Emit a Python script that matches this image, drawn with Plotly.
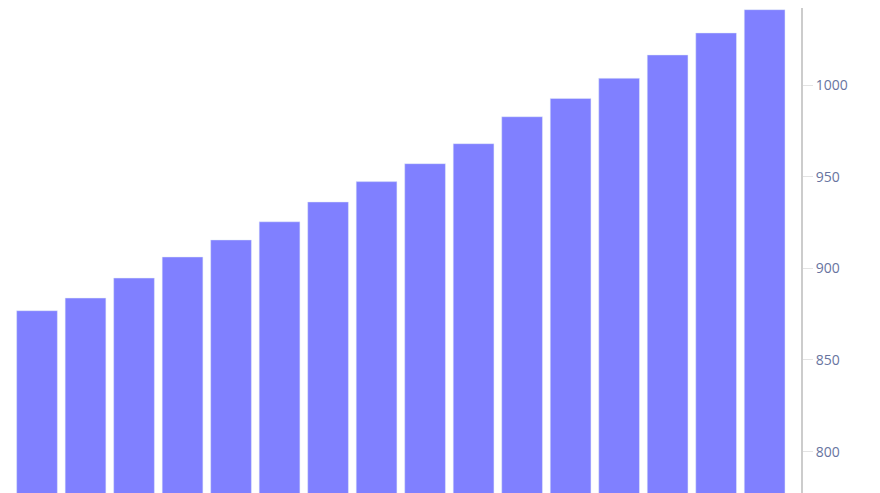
import plotly.graph_objects as go

# 16 bars, values
categories = list(range(16))
values = [876.9, 883.8, 894.7, 906.2, 915.5, 925.4, 936.2, 947.3,
          957.1, 968.0, 982.7, 992.7, 1003.7, 1016.4, 1028.4, 1041.1]
tick_vals = [800, 850, 900, 950, 1000]

fig = go.Figure()
fig.add_trace(go.Bar(
    x=categories,
    y=values,
    marker=dict(color='rgb(128, 128, 255)',
                line=dict(color='#E5ECF6', width=0.5)),
))

# page body has an 8px margin, so the figure is sized to end at the window edge
fig.update_layout(
    width=872, height=485,
    margin=dict(l=0, r=79, t=0, b=0),
    plot_bgcolor='white',
    paper_bgcolor='white',
    showlegend=False,
    bargap=0.16,
    xaxis=dict(
        range=[-0.598, 15.75],
        visible=False,
        showgrid=False,
        zeroline=False,
    ),
    yaxis=dict(
        side='right',
        range=[777.45, 1042.0],
        tickvals=tick_vals,
        showgrid=False,
        zeroline=False,
        showline=True,
        linecolor='#cccccc',
        linewidth=2,
        ticks='outside',
        ticklen=10,
        tickcolor='#e3e3e3',
        tickwidth=1,
        tickfont=dict(family='Open Sans', size=14, color='#6874a0'),
    ),
)

fig.write_html("out.html")
